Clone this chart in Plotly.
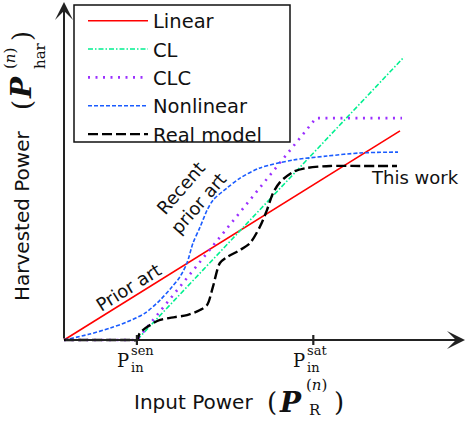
import plotly.graph_objects as go

# ---- data (arbitrary power units) ----
series_names = ["Linear", "CL", "CLC", "Nonlinear", "Real model"]

linear_x = [0.0, 10.0]
linear_y = [0.0, 7.39]

cl_x = [0.0, 2.17, 10.12]
cl_y = [0.0, 0.0, 10.0]

clc_x = [0.0, 2.17, 7.50, 10.06]
clc_y = [0.0, 0.0, 7.84, 7.84]

nl_x = [0, 0.77, 1.37, 1.88, 2.41, 2.86, 3.21, 3.45, 3.66, 3.84, 4.05, 4.26,
        4.44, 4.85, 5.24, 5.83, 6.82, 7.83, 8.81, 9.94]
nl_y = [0, 0.21, 0.42, 0.64, 0.95, 1.41, 1.87, 2.23, 2.72, 3.43, 3.99, 4.59,
        4.95, 5.37, 5.72, 6.08, 6.36, 6.50, 6.61, 6.64]

real_x = [0, 2.0, 2.17, 2.26, 2.56, 2.86, 3.30, 3.66, 4.05, 4.26, 4.43, 4.64,
          4.85, 5.24, 5.54, 5.83, 6.04, 6.22, 6.43, 6.82, 7.23, 7.92, 8.81, 9.91]
real_y = [0, 0, 0, 0.25, 0.53, 0.71, 0.81, 0.88, 1.06, 1.24, 1.87, 2.72,
          2.93, 3.18, 3.43, 4.00, 4.59, 5.19, 5.58, 5.94, 6.08, 6.15, 6.15, 6.15]

tick_vals = [2.17, 7.42]
tick_sup = ["sen", "sat"]
tick_sub = ["in", "in"]

# ---- figure geometry ----
W, H = 466, 424
X0PX, Y0PX = 64, 340          # pixel location of the data origin
SX, SY = 33.6, 28.3           # pixels per data unit
xr = [(0 - X0PX) / SX, (W - X0PX) / SX]
yr = [(Y0PX - H) / SY, (Y0PX - 0) / SY]

def px(xp):
    return xp / W

def py(yp):
    return 1 - yp / H

SANS = "DejaVu Sans"
SERIF = "DejaVu Serif"
INK = "#111111"

fig = go.Figure()
styles = [
    dict(color="#ff0000", width=1.6, dash="solid"),
    dict(color="#00f090", width=1.6, dash="5px,2px,1.5px,2px"),
    dict(color="#9b30ff", width=2.6, dash="2px,5.5px"),
    dict(color="#1a5cff", width=1.6, dash="4px,2px"),
    dict(color="#000000", width=2.4, dash="10px,4px"),
]
data = [(linear_x, linear_y), (cl_x, cl_y), (clc_x, clc_y), (nl_x, nl_y), (real_x, real_y)]
for name, (xs, ys), st in zip(series_names, data, styles):
    shape = "spline" if name in ("Nonlinear", "Real model") else "linear"
    fig.add_trace(go.Scatter(x=xs, y=ys, mode="lines", name=name,
                             line=dict(shape=shape, smoothing=0.8, **st)))

anns = []
# axes as arrows
anns.append(dict(x=px(466), y=py(Y0PX), ax=-(466 - X0PX), ay=0,
                 axref="pixel", ayref="pixel", showarrow=True, arrowhead=3, arrowsize=1.5,
                 arrowwidth=2, arrowcolor="#222", text="", standoff=0))
anns.append(dict(x=px(X0PX), y=py(2), ax=0, ay=(Y0PX - 2),
                 axref="pixel", ayref="pixel", showarrow=True, arrowhead=3, arrowsize=1.5,
                 arrowwidth=2, arrowcolor="#222", text="", standoff=0))

shapes = []
for tv, sup, sub in zip(tick_vals, tick_sup, tick_sub):
    shapes.append(dict(type="line", xref="x", yref="paper", x0=tv, x1=tv,
                       y0=py(Y0PX - 5), y1=py(Y0PX + 5), line=dict(color="#222", width=2.2)))
    anns.append(dict(xref="x", x=tv, xshift=-14, y=py(360), text="P",
                     font=dict(family=SERIF, size=18)))
    anns.append(dict(xref="x", x=tv, xshift=-8, xanchor="left", y=py(358.5), align="left",
                     text=sup + "<br>" + sub, font=dict(family=SERIF, size=13)))

# legend frame
shapes.append(dict(type="rect", xref="paper", yref="paper", x0=px(74), x1=px(290),
                   y0=py(142), y1=py(5), line=dict(color=INK, width=1.5),
                   fillcolor="white", layer="above"))

SM = "<span style='font-size:15px'>%s</span>"
# x-axis title
anns += [
    dict(x=px(193.5), y=py(402), text="Input Power", font=dict(family=SANS, size=20)),
    dict(x=px(272), y=py(402), text="(", font=dict(family=SERIF, size=26)),
    dict(x=px(290), y=py(402), text="<b><i>P</i></b>", font=dict(family=SERIF, size=28)),
    dict(x=px(304), xanchor="left", y=py(385), text="(<i>n</i>)", font=dict(family=SERIF, size=15)),
    dict(x=px(307), xanchor="left", y=py(410), text="R", font=dict(family=SERIF, size=15)),
    dict(x=px(339), y=py(402), text=")", font=dict(family=SERIF, size=26)),
]
# y-axis title (rotated)
anns += [
    dict(x=px(22), y=py(216), text="Harvested Power", textangle=-90, font=dict(family=SANS, size=20)),
    dict(x=px(22), y=py(105), text="(", textangle=-90, font=dict(family=SERIF, size=26)),
    dict(x=px(22), y=py(88), text="<b><i>P</i></b>", textangle=-90, font=dict(family=SERIF, size=28)),
    dict(x=px(25), y=py(56), align="left", textangle=-90,
         text=SM % "(<i>n</i>)" + "<br>" + SM % "har", font=dict(family=SERIF, size=23)),
    dict(x=px(22), y=py(36), text=")", textangle=-90, font=dict(family=SERIF, size=26)),
]
# text labels
anns += [
    dict(x=px(128), y=py(287), text="Prior art", textangle=-32, font=dict(family=SANS, size=18)),
    dict(x=px(189), y=py(196), text="Recent<br>prior art", textangle=-49, font=dict(family=SANS, size=18)),
    dict(x=px(415), y=py(178), text="This work", font=dict(family=SANS, size=18)),
]
for a in anns:
    a.setdefault("xref", "paper")
    a.setdefault("yref", "paper")
    a.setdefault("xanchor", "center")
    a.setdefault("yanchor", "middle")
    a.setdefault("showarrow", False)
    a.setdefault("font", {})
    a["font"].setdefault("color", INK)

fig.update_layout(
    width=W, height=H, margin=dict(l=0, r=0, t=0, b=0),
    paper_bgcolor="white", plot_bgcolor="white",
    xaxis=dict(range=xr, visible=False, fixedrange=True),
    yaxis=dict(range=yr, visible=False, fixedrange=True),
    annotations=anns, shapes=shapes,
    showlegend=True,
    legend=dict(x=px(83), y=py(1.5), xanchor="left", yanchor="top",
                borderwidth=0, bgcolor="rgba(0,0,0,0)",
                font=dict(family=SANS, size=19.5, color=INK),
                itemwidth=60, tracegroupgap=0),
)
fig.write_html("out.html", config={"displayModeBar": False},
               post_script="document.body.style.margin='0px';")
